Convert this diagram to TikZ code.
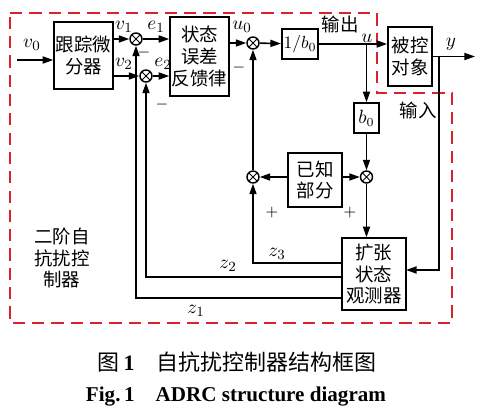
\documentclass[tikz,border=0pt]{standalone}
\usepackage{fontspec}
\setmainfont{Liberation Serif}
\newfontfamily\cjk{Noto Sans CJK SC}
\usetikzlibrary{arrows.meta, positioning}
\definecolor{dashred}{RGB}{215,35,45}

\begin{document}
\begin{tikzpicture}[
    x=0.02cm, y=-0.02cm,
    block/.style={rectangle, draw, line width=0.9pt, inner sep=1pt, align=center, font=\cjk\fontsize{10.5}{12.5}\selectfont},
    sum/.style={circle, draw, line width=0.8pt, minimum size=0.24cm, inner sep=0pt,
      path picture={\draw[line width=0.6pt] (path picture bounding box.north west) -- (path picture bounding box.south east)
        (path picture bounding box.north east) -- (path picture bounding box.south west);}},
    arrow/.style={-{Triangle[length=6pt,width=4pt]}, line width=0.9pt},
    wire/.style={line width=0.9pt},
    sig/.style={font=\fontsize{11}{12}\selectfont, inner sep=0pt},
    sign/.style={font=\fontsize{9}{10}\selectfont, inner sep=0pt},
    cn/.style={font=\cjk\fontsize{10.5}{12}\selectfont, inner sep=0pt, align=center},
    boundary/.style={draw=dashred, line width=1.1pt, dash pattern=on 7pt off 4pt}
  ]
  \useasboundingbox (0,0) rectangle (481,409);

  % controller boundary
  \draw[boundary] (10,13) -- (377,13) -- (377,93) -- (452,93) -- (452,323) -- (10,323) -- cycle;

  % blocks
  \node[block, minimum width=1.14cm, minimum height=1.34cm] (td) at (83.5,55.5) {跟踪微\\分器};
  \node[block, minimum width=1.14cm, minimum height=1.58cm] (fb) at (199.5,56.5) {状态\\误差\\反馈律};
  \node[block, minimum width=0.72cm, minimum height=0.6cm, font=\fontsize{10}{12}\selectfont] (invb) at (300,44) {$1/b_0$};
  \node[block, minimum width=0.88cm, minimum height=1.18cm] (plant) at (410,56.5) {被控\\对象};
  \node[block, minimum width=0.5cm, minimum height=0.6cm, font=\fontsize{10.5}{12}\selectfont] (b0) at (366.5,118) {$b_0$};
  \node[block, minimum width=1.08cm, minimum height=1.08cm] (known) at (315,180) {已知\\部分};
  \node[block, minimum width=1.28cm, minimum height=1.44cm] (eso) at (374,274) {扩张\\状态\\观测器};

  % summing points
  \node[sum] (s1) at (136,39) {};
  \node[sum] (s2) at (146,76) {};
  \node[sum] (s3) at (253,43) {};
  \node[sum] (s4) at (366.5,177) {};
  \node[sum] (s5) at (253,177) {};

  % free ends
  \coordinate (in) at (17,60);
  \coordinate (out) at (475,56.5);
  \coordinate (ub) at (366.5,44);
  \coordinate (yb) at (439,56.5);
  \coordinate (fbk) at (406,270);
  \coordinate (z3s) at (342,263);
  \coordinate (z2s) at (342,277);
  \coordinate (z1s) at (342,298);

  % forward path
  \draw[arrow] (in) -- (in -| td.west);
  \draw[arrow] (td.east |- s1) -- (s1);
  \draw[arrow] (td.east |- s2) -- (s2);
  \draw[arrow] (s1) -- (s1 -| fb.west);
  \draw[arrow] (s2) -- (s2 -| fb.west);
  \draw[arrow] (fb.east |- s3) -- (s3);
  \draw[arrow] (s3) -- (invb);
  \draw[arrow] (invb) -- (invb -| plant.west);
  \draw[arrow] (plant) -- (out);

  % observer
  \draw[arrow] (ub) -- (b0);
  \draw[arrow] (b0) -- (s4);
  \draw[arrow] (known.east |- s4) -- (s4);
  \draw[arrow] (known.west |- s5) -- (s5);
  \draw[arrow] (s4) -- (s4 |- eso.north);
  \draw[arrow] (s5) -- (s3);
  \draw[arrow] (yb) |- (fbk);
  \draw[arrow] (z3s) -| (s5);
  \draw[arrow] (z2s) -| (s2);
  \draw[arrow] (z1s) -| (s1);

  % signal labels
  \node[sig] at (32,45) {$v_0$};
  \node[sig] at (124,27) {$v_1$};
  \node[sig] at (124,64) {$v_2$};
  \node[sig] at (156,27) {$e_1$};
  \node[sig] at (163,64) {$e_2$};
  \node[sig] at (242,27) {$u_0$};
  \node[sig] at (367,38) {$u$};
  \node[sig] at (451,44) {$y$};
  \node[sig] at (277,254) {$z_3$};
  \node[sig] at (228,266) {$z_2$};
  \node[sig] at (196,311) {$z_1$};
  \node[sign] at (144,53) {$-$};
  \node[sign] at (162,105) {$-$};
  \node[sign] at (239,68) {$-$};
  \node[sign] at (272,213) {$+$};
  \node[sign] at (350,213) {$+$};
  \node[cn] at (340,24) {输出};
  \node[cn] at (418,110) {输入};
  \node[cn] at (62,258) {二阶自\\抗扰控\\制器};

  % caption
  \node[inner sep=0pt, font=\fontsize{12.5}{15}\selectfont] (cap1) at (237,362) {{\cjk 图}\,\textbf{1}\quad{\cjk 自抗扰控制器结构框图}};
  \node[inner sep=0pt, font=\bfseries\fontsize{12}{14}\selectfont] (cap2) at (236,397) {Fig.\,1\quad ADRC structure diagram};
\end{tikzpicture}
\end{document}
